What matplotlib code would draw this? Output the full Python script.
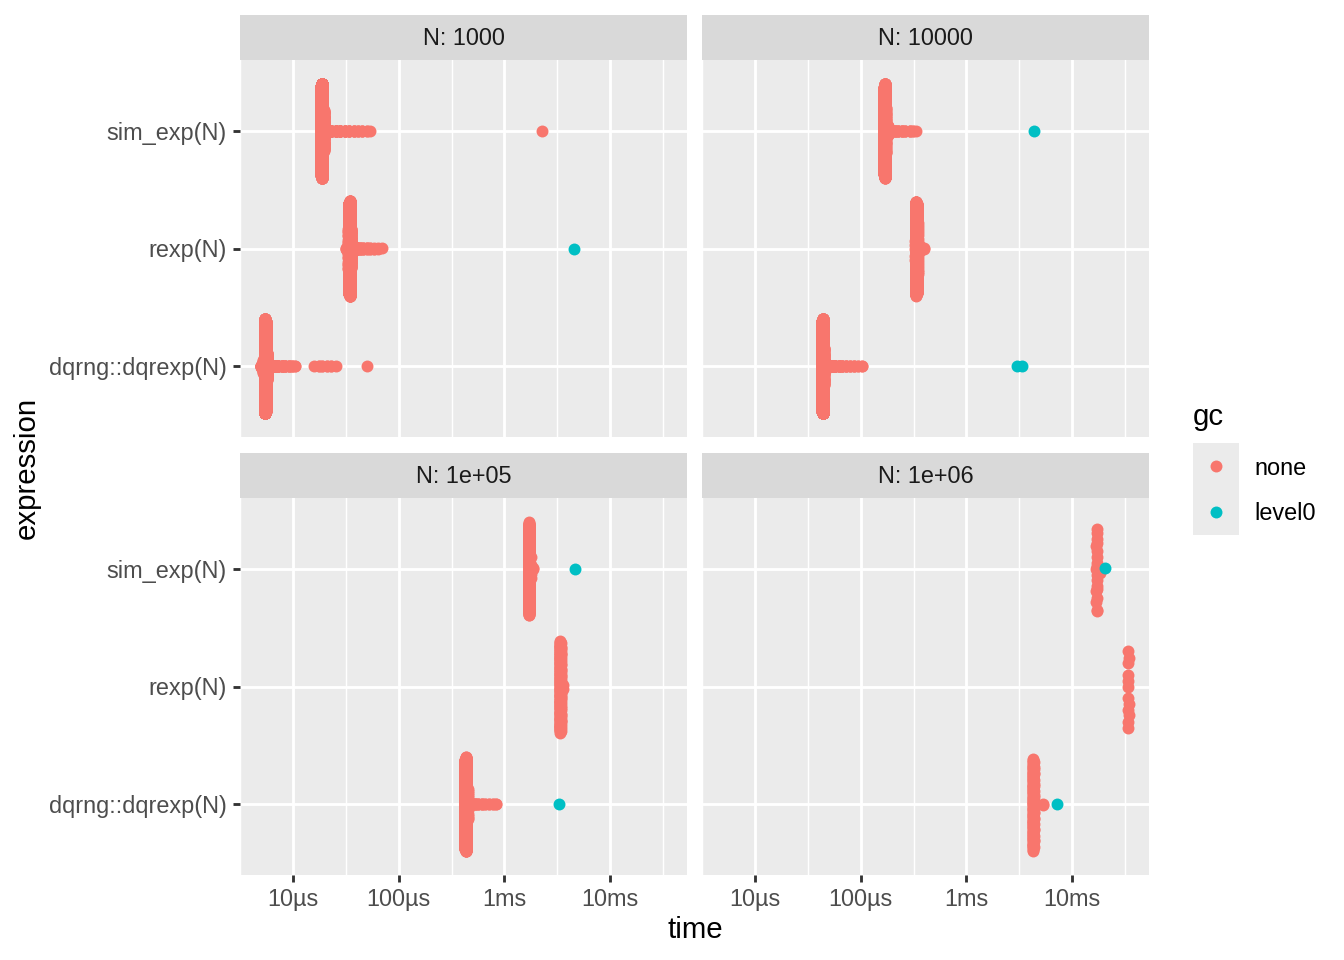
import numpy as np
import matplotlib.pyplot as plt
from matplotlib.patches import Rectangle

plt.rcParams['font.family'] = ['Liberation Sans', 'DejaVu Sans']

expressions = ['dqrng::dqrexp(N)', 'rexp(N)', 'sim_exp(N)']  # bottom -> top
panel_titles = ['N: 1000', 'N: 10000', 'N: 1e+05', 'N: 1e+06']
gc_levels = ['none', 'level0']
gc_colors = ['#F8766D', '#00BFC4']
tick_values = [10, 100, 1000, 10000]  # µs
tick_labels = ['10µs', '100µs', '1ms', '10ms']

# timings in µs and how many iterations landed there (gc = none),
# plus the iterations that triggered a level0 gc
# N = 1000
sim_1e3_t = [18.6, 18.8, 19.0, 19.5, 20.2, 21, 23, 25.5, 28, 31, 34, 37.5, 41, 45, 50, 54, 2270]
sim_1e3_n = [2500, 4500, 2000, 80, 40, 25, 15, 10, 8, 6, 5, 4, 3, 3, 2, 1, 1]
sim_1e3_gc = []
rexp_1e3_t = [31.5, 33.3, 34.2, 34.5, 34.8, 35.8, 37, 38.5, 40, 43, 46.5, 50, 54, 58.5, 63.5, 70]
rexp_1e3_n = [3, 20, 2500, 5000, 2000, 80, 40, 25, 12, 8, 6, 5, 4, 3, 2, 1]
rexp_1e3_gc = [4570]
dq_1e3_t = [5.0, 5.2, 5.45, 5.5, 5.55, 5.75, 6.0, 6.3, 6.8, 7.3, 7.9, 8.5, 9.1, 9.8, 10.4,
            16, 17.5, 19, 21, 23, 25.5, 50]
dq_1e3_n = [10, 20, 2500, 5000, 2000, 80, 40, 15, 10, 8, 6, 5, 4, 3, 2, 1, 2, 2, 2, 2, 1, 1]
dq_1e3_gc = []
# N = 10000
sim_1e4_t = [167, 169, 171, 175, 180, 187, 195, 210, 225, 245, 265, 290, 312, 335]
sim_1e4_n = [800, 1500, 700, 40, 25, 12, 8, 5, 4, 4, 3, 3, 2, 1]
sim_1e4_gc = [4320]
rexp_1e4_t = [323, 334, 337, 340, 348, 360, 375, 395]
rexp_1e4_n = [5, 400, 600, 400, 20, 5, 3, 2]
rexp_1e4_gc = []
dq_1e4_t = [43.4, 43.8, 44.2, 45.5, 47, 49, 53, 57, 62, 67, 73, 79, 86, 94, 102]
dq_1e4_n = [2500, 5000, 2000, 60, 40, 25, 15, 8, 6, 5, 4, 3, 3, 2, 2]
dq_1e4_gc = [3000, 3330]
# N = 1e5
sim_1e5_t = [1695, 1710, 1725, 1780, 1880]
sim_1e5_n = [90, 120, 70, 4, 2]
sim_1e5_gc = [4680]
rexp_1e5_t = [3350, 3380, 3410, 3600]
rexp_1e5_n = [50, 65, 40, 2]
rexp_1e5_gc = []
dq_1e5_t = [428, 432, 436, 450, 470, 495, 525, 565, 610, 660, 720, 780, 830]
dq_1e5_n = [400, 550, 300, 15, 8, 5, 4, 3, 3, 2, 2, 2, 2]
dq_1e5_gc = [3260]
# N = 1e6
sim_1e6_t = [16950, 17100, 17250, 18200]
sim_1e6_n = [4, 10, 5, 1]
sim_1e6_gc = [20500]
rexp_1e6_t = [33800, 34000, 34200]
rexp_1e6_n = [3, 6, 3]
rexp_1e6_gc = []
dq_1e6_t = [4260, 4300, 4340, 5300]
dq_1e6_n = [30, 55, 25, 2]
dq_1e6_gc = [7170]

panels = [
    [(dq_1e3_t, dq_1e3_n, dq_1e3_gc), (rexp_1e3_t, rexp_1e3_n, rexp_1e3_gc), (sim_1e3_t, sim_1e3_n, sim_1e3_gc)],
    [(dq_1e4_t, dq_1e4_n, dq_1e4_gc), (rexp_1e4_t, rexp_1e4_n, rexp_1e4_gc), (sim_1e4_t, sim_1e4_n, sim_1e4_gc)],
    [(dq_1e5_t, dq_1e5_n, dq_1e5_gc), (rexp_1e5_t, rexp_1e5_n, rexp_1e5_gc), (sim_1e5_t, sim_1e5_n, sim_1e5_gc)],
    [(dq_1e6_t, dq_1e6_n, dq_1e6_gc), (rexp_1e6_t, rexp_1e6_n, rexp_1e6_gc), (sim_1e6_t, sim_1e6_n, sim_1e6_gc)],
]


def vdc(n):
    out = np.zeros(n)
    for i in range(n):
        k, f, v = i + 1, 0.5, 0.0
        while k > 0:
            v += f * (k % 2)
            k //= 2
            f /= 2
        out[i] = v
    return out


def quasirandom(times, bw=0.012, width=0.4):
    # beeswarm-style offsets: van der Corput sequence scaled by density (log scale)
    lt = np.log10(times)
    u, inv, cnt = np.unique(lt, return_inverse=True, return_counts=True)
    du = (cnt[None, :] * np.exp(-0.5 * ((u[:, None] - u[None, :]) / bw) ** 2)).sum(1)
    dens = du[inv] / du.max()
    order = np.argsort(lt, kind='stable')
    v = np.empty(len(lt))
    v[order] = vdc(len(lt))
    return (v - 0.5) * 2 * width * dens


# shared x range with 5% expansion on log scale
all_t = np.concatenate([np.r_[t, g] for p in panels for (t, n, g) in p]).astype(float)
lo, hi = np.log10(all_t.min()), np.log10(all_t.max())
pad = 0.05 * (hi - lo)
xlim = (10 ** (lo - pad), 10 ** (hi + pad))
minor = [10 ** (k + 0.5) for k in range(0, 5)]

W, H = 1344, 960
fig = plt.figure(figsize=(7, 5), dpi=192)


def box(x0, y0, x1, y1):
    return [x0 / W, 1 - y1 / H, (x1 - x0) / W, (y1 - y0) / H]


boxes = [(240, 60, 687, 437), (702, 60, 1149, 437), (240, 498, 687, 875), (702, 498, 1149, 875)]

for i, (p, b) in enumerate(zip(panels, boxes)):
    ax = fig.add_axes(box(*b))
    ax.set_facecolor('#EBEBEB')
    for s in ax.spines.values():
        s.set_visible(False)
    ax.set_xscale('log')
    ax.set_xlim(xlim)
    ax.set_ylim(0.4, 3.6)
    ax.set_xticks(tick_values)
    ax.set_xticks(minor, minor=True)
    ax.set_xticklabels(tick_labels)
    ax.set_yticks([1, 2, 3])
    ax.set_yticklabels(expressions)
    ax.grid(which='major', color='white', lw=1.07)
    ax.grid(which='minor', axis='x', color='white', lw=0.53)
    ax.set_axisbelow(True)
    ax.tick_params(which='minor', length=0)
    ax.tick_params(which='major', length=2.75, width=1.07, color='#333333',
                   labelcolor='#4D4D4D', labelsize=8.8, pad=2.2)
    if i < 2:
        ax.tick_params(axis='x', which='major', length=0, labelbottom=False)
    if i % 2 == 1:
        ax.tick_params(axis='y', which='major', length=0, labelleft=False)

    for yi, (t, n, g) in enumerate(p):
        times = np.r_[np.repeat(t, n), g].astype(float)
        lab = np.r_[np.zeros(int(np.sum(n))), np.ones(len(g))]
        off = quasirandom(times)
        for k in range(2):
            m = lab == k
            ax.scatter(times[m], yi + 1 + off[m], s=20, color=gc_colors[k],
                       linewidths=0, zorder=3, clip_on=False)

    # strip
    sx = fig.add_axes(box(b[0], b[1] - 45, b[2], b[1]))
    sx.set_facecolor('#D9D9D9')
    sx.set_xticks([])
    sx.set_yticks([])
    for s in sx.spines.values():
        s.set_visible(False)
    sx.text(0.5, 0.48, panel_titles[i], ha='center', va='center', fontsize=8.8,
            color='#1A1A1A', transform=sx.transAxes)

# axis titles
fig.text(695 / W, 1 - 930 / H, 'time', ha='center', va='center', fontsize=11)
fig.text(27 / W, 1 - 468 / H, 'expression', ha='center', va='center', fontsize=11, rotation=90)

# legend
lax = fig.add_axes(box(1193, 443, 1239, 535))
lax.set_xlim(0, 1)
lax.set_ylim(0, 2)
lax.axis('off')
lax.add_patch(Rectangle((0, 0), 1, 2, facecolor='#EBEBEB', edgecolor='none'))
for k, (lv, c) in enumerate(zip(gc_levels, gc_colors)):
    lax.scatter([0.5], [1.5 - k], s=20, color=c, linewidths=0)
    fig.text(1254 / W, 1 - (468 + 46 * k) / H, lv, ha='left', va='center', fontsize=8.8)
fig.text(1193 / W, 1 - 417 / H, 'gc', ha='left', va='center', fontsize=11)

fig.savefig('out.png', dpi=192)
